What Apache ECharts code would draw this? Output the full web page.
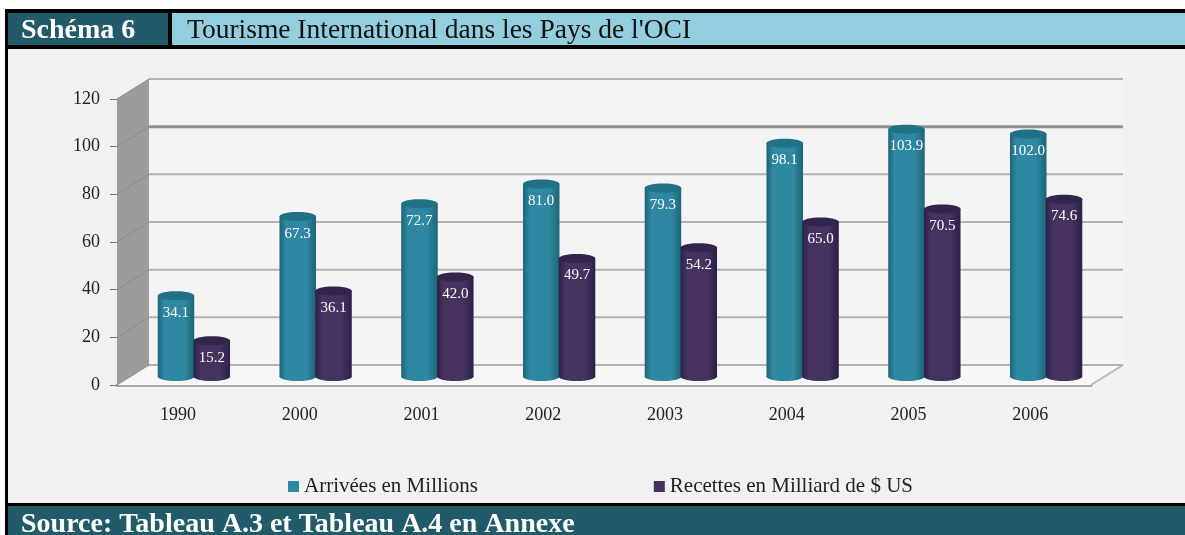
<!DOCTYPE html>
<html>
<head>
<meta charset="utf-8">
<style>
html, body { margin: 0; padding: 0; background: #fff; }
#chart { width: 1185px; height: 535px; }
</style>
<script src="https://cdn.jsdelivr.net/npm/echarts@6/dist/echarts.min.js"></script>
</head>
<body>
<div id="chart"></div>
<script>
var categories = ['1990', '2000', '2001', '2002', '2003', '2004', '2005', '2006'];
var arrivees = [34.1, 67.3, 72.7, 81.0, 79.3, 98.1, 103.9, 102.0];
var recettes = [15.2, 36.1, 42.0, 49.7, 54.2, 65.0, 70.5, 74.6];
var yTicks = [0, 20, 40, 60, 80, 100, 120];

// decalage de la perspective entre le plan avant et le mur du fond
var depthX = 32, depthY = -20;
var serif = '"Liberation Serif", serif';

var myChart = echarts.init(document.getElementById('chart'));

// mur gauche + sol + fond
function renderWalls(params, api) {
    var cs = params.coordSys;
    var left = cs.x, right = cs.x + cs.width, top = cs.y, bottom = cs.y + cs.height;
    return {
        type: 'group',
        children: [
            { type: 'rect', shape: { x: left + depthX, y: top + depthY, width: cs.width, height: cs.height },
              style: { fill: '#f4f4f4' } },
            { type: 'polygon', shape: { points: [[left, bottom], [right, bottom], [right + depthX, bottom + depthY], [left + depthX, bottom + depthY]] },
              style: { fill: '#f7f7f7' } },
            { type: 'polygon', shape: { points: [[left, top], [left + depthX, top + depthY], [left + depthX, bottom + depthY], [left, bottom]] },
              style: { fill: '#9c9c9c' } },
            { type: 'line', shape: { x1: right, y1: bottom, x2: right + depthX, y2: bottom + depthY },
              style: { stroke: '#b8b8b8', lineWidth: 2 } }
        ]
    };
}

// une ligne de grille par graduation : fond + diagonale sur le mur gauche
function renderGridLine(params, api) {
    var cs = params.coordSys;
    var y = api.coord([0, api.value(1)])[1];
    var strong = api.value(1) === 100;
    return {
        type: 'group',
        children: [
            { type: 'line', shape: { x1: cs.x + depthX, y1: y + depthY, x2: cs.x + cs.width + depthX, y2: y + depthY },
              style: { stroke: strong ? '#8f8f8f' : '#b2b2b2', lineWidth: strong ? 3 : 2 } },
            { type: 'line', shape: { x1: cs.x, y1: y, x2: cs.x + depthX, y2: y + depthY },
              style: { stroke: '#8c8c8c', lineWidth: 1 } }
        ]
    };
}

// cylindre : corps + deux ellipses + etiquette
function cylinder(colors, side) {
    return function (params, api) {
        var idx = api.value(0);
        var val = api.value(1);
        var band = api.size([1, 0])[0];
        var w = band * 0.3;
        var top = api.coord([idx, val]);
        var base = api.coord([idx, 0]);
        var cx = top[0] + depthX / 2 + side * w * 0.49;
        var yTop = top[1] + depthY / 2 + 2;
        var yBase = base[1] + depthY / 2 + 1.5;
        var ry = 4.5;
        var grad = new echarts.graphic.LinearGradient(0, 0, 1, 0, [
            { offset: 0, color: colors[0] },
            { offset: 0.18, color: colors[1] },
            { offset: 0.72, color: colors[1] },
            { offset: 1, color: colors[0] }
        ]);
        return {
            type: 'group',
            children: [
                { type: 'ellipse', shape: { cx: cx, cy: yBase, rx: w / 2, ry: ry }, style: { fill: grad } },
                { type: 'rect', shape: { x: cx - w / 2, y: yTop, width: w, height: yBase - yTop }, style: { fill: grad } },
                { type: 'ellipse', shape: { cx: cx, cy: yTop, rx: w / 2, ry: ry }, style: { fill: colors[2] } },
                { type: 'text', x: cx, y: yTop + 17,
                  style: { text: val.toFixed(1), fill: '#fff', font: '15px ' + serif, textAlign: 'center', textVerticalAlign: 'middle' } }
            ]
        };
    };
}

function toPoints(values) {
    return values.map(function (v, i) { return [i, v]; });
}

var option = {
    animation: false,
    color: ['#2f88a2', '#45325f'],
    title: [
        { text: 'Schéma 6', left: 16, top: 12, textStyle: { color: '#fff', fontFamily: serif, fontSize: 28, fontWeight: 'bold' } },
        { text: "Tourisme International dans les Pays de l'OCI", left: 182, top: 12, textStyle: { color: '#111', fontFamily: serif, fontSize: 27.5, fontWeight: 'normal' } },
        { text: 'Source: Tableau A.3 et Tableau A.4 en Annexe', left: 16, top: 506, textStyle: { color: '#fff', fontFamily: serif, fontSize: 28, fontWeight: 'bold' } }
    ],
    graphic: [
        { type: 'rect', z: -10, shape: { x: 5, y: 9, width: 1180, height: 526 }, style: { fill: '#000' } },
        { type: 'rect', z: -9, shape: { x: 8, y: 13, width: 160, height: 32 }, style: { fill: '#215a69' } },
        { type: 'rect', z: -9, shape: { x: 172, y: 13, width: 1013, height: 32 }, style: { fill: '#92cedd' } },
        { type: 'rect', z: -9, shape: { x: 8, y: 49, width: 1177, height: 454 }, style: { fill: '#f1f1f1' } },
        { type: 'rect', z: -9, shape: { x: 8, y: 506, width: 1177, height: 29 }, style: { fill: '#215a69' } }
    ],
    legend: {
        data: ['Arrivées en Millions', 'Recettes en Milliard de $ US'],
        left: 283,
        top: 471,
        icon: 'rect',
        itemWidth: 11,
        itemHeight: 11,
        itemGap: 176,
        textStyle: { fontFamily: serif, fontSize: 21, color: '#222' }
    },
    grid: { left: 117, top: 99, width: 974, height: 286 },
    xAxis: {
        type: 'category',
        data: categories,
        axisLine: { lineStyle: { color: '#a8a8a8', width: 3 } },
        axisTick: { length: 7, lineStyle: { color: '#777' } },
        axisLabel: { margin: 21, fontFamily: serif, fontSize: 18, color: '#222' }
    },
    yAxis: {
        type: 'value',
        min: 0,
        max: 120,
        interval: 20,
        splitLine: { show: false },
        axisLine: { show: false },
        axisTick: { show: true, length: 7, lineStyle: { color: '#777' } },
        axisLabel: { margin: 17, fontFamily: serif, fontSize: 18, color: '#222' }
    },
    series: [
        { name: 'murs', type: 'custom', z: 1, clip: false, silent: true, data: [[0, 0]], renderItem: renderWalls },
        { name: 'lignes', type: 'custom', z: 2, clip: false, silent: true, data: toPoints(yTicks).map(function (p) { return [0, p[1]]; }), renderItem: renderGridLine },
        { name: 'Arrivées en Millions', type: 'custom', z: 3, clip: false, itemStyle: { color: '#2f88a2' }, data: toPoints(arrivees), encode: { x: 0, y: 1 }, renderItem: cylinder(['#1d6577', '#2f88a2', '#1f7186'], -1) },
        { name: 'Recettes en Milliard de $ US', type: 'custom', z: 4, clip: false, itemStyle: { color: '#45325f' }, data: toPoints(recettes), encode: { x: 0, y: 1 }, renderItem: cylinder(['#2c2046', '#45325f', '#33244c'], 1) }
    ]
};
myChart.setOption(option);
</script>
</body>
</html>
